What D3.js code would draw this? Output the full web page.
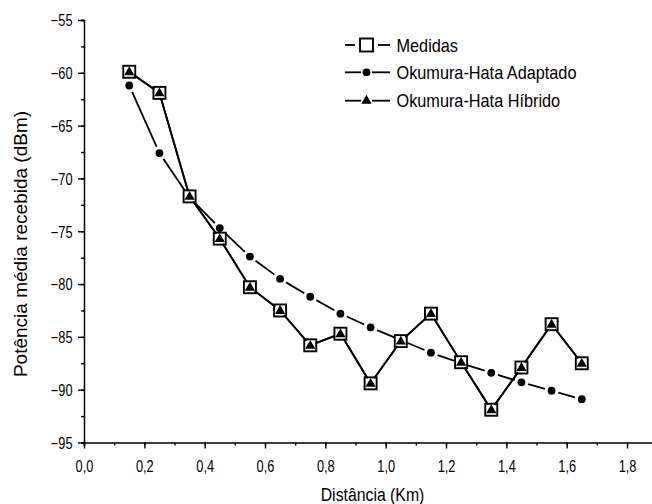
<!DOCTYPE html>
<html>
<head>
<meta charset="utf-8">
<script src="https://cdn.jsdelivr.net/npm/d3@7"></script>
<style>
  html, body { margin: 0; padding: 0; background: #fff; }
  svg { display: block; font-family: "Liberation Sans", Arial, sans-serif; }
</style>
</head>
<body>
<svg id="chart" width="652" height="504"></svg>
<script>
// Distância (km) das medições
const distancias = [0.15, 0.25, 0.35, 0.45, 0.55, 0.65, 0.75, 0.85, 0.95, 1.05, 1.15, 1.25, 1.35, 1.45, 1.55, 1.65];
// Potência média recebida (dBm)
const medidas   = [-59.9, -61.9, -71.7, -75.7, -80.3, -82.5, -85.8, -84.7, -89.4, -85.4, -82.8, -87.4, -91.9, -87.9, -83.8, -87.5];
const adaptado  = [-61.2, -67.6, -71.8, -74.7, -77.4, -79.5, -81.2, -82.8, -84.1, -85.3, -86.5, -87.5, -88.4, -89.3, -90.1, -90.9];
const hibrido   = [-59.9, -61.9, -71.7, -75.7, -80.3, -82.5, -85.8, -84.7, -89.4, -85.4, -82.8, -87.4, -91.9, -87.9, -83.8, -87.5];
const xTicks = [0, 0.2, 0.4, 0.6, 0.8, 1.0, 1.2, 1.4, 1.6, 1.8];
const yTicks = [-95, -90, -85, -80, -75, -70, -65, -60, -55];
const seriesNames = ["Medidas", "Okumura-Hata Adaptado", "Okumura-Hata Híbrido"];

const svg = d3.select("#chart");
const x = d3.scaleLinear().domain([0, 1.9]).range([84, 657.2]);
const y = d3.scaleLinear().domain([-95, -55]).range([442.5, 20]);
const fmt = d => d3.format(".1f")(d).replace(".", ",");
const ink = "#000";
const font = "Liberation Sans, Arial, sans-serif";
const tickSX = 0.8;   // rótulos dos eixos em estilo condensado

// Eixo X: marcas menores e maiores
const gx = svg.append("g").attr("transform", `translate(0,${y(-95)})`);
gx.call(d3.axisBottom(x).tickValues(d3.range(0, 1.95, 0.1)).tickSize(3).tickFormat(""));
gx.selectAll(".tick line").attr("stroke", ink).attr("stroke-width", 1.4);
gx.select(".domain").attr("stroke", ink).attr("stroke-width", 1.5);
const gx2 = svg.append("g").attr("transform", `translate(0,${y(-95)})`);
gx2.call(d3.axisBottom(x).tickValues(xTicks).tickSize(6).tickFormat(fmt));
gx2.select(".domain").remove();
gx2.selectAll(".tick line").attr("stroke", ink).attr("stroke-width", 1.4);
gx2.selectAll(".tick text")
   .attr("font-size", 16).attr("font-family", font).attr("fill", ink)
   .attr("x", 0).attr("y", 29.2).attr("dy", null)
   .attr("transform", `scale(${tickSX},1)`);

// Eixo Y: marcas menores e maiores
const gy = svg.append("g").attr("transform", `translate(${x(0)},0)`);
gy.call(d3.axisLeft(y).tickValues(d3.range(-95, -54.9, 2.5)).tickSize(3).tickFormat(""));
gy.selectAll(".tick line").attr("stroke", ink).attr("stroke-width", 1.4);
gy.select(".domain").attr("stroke", ink).attr("stroke-width", 1.5);
const gy2 = svg.append("g").attr("transform", `translate(${x(0)},0)`);
gy2.call(d3.axisLeft(y).tickValues(yTicks).tickSize(6).tickFormat(d3.format("d")));
gy2.select(".domain").remove();
gy2.selectAll(".tick line").attr("stroke", ink).attr("stroke-width", 1.4);
gy2.selectAll(".tick text")
   .attr("font-size", 16).attr("font-family", font).attr("fill", ink)
   .attr("x", -11.5 / tickSX).attr("dy", "0.36em")
   .attr("transform", `scale(${tickSX},1)`);

// Títulos dos eixos
svg.append("text").attr("transform", "translate(372.5,501) scale(0.85,1)").attr("text-anchor", "middle")
   .attr("font-size", 18.6).attr("fill", ink).text("Distância (Km)");
svg.append("text").attr("transform", "translate(27.3,244) rotate(-90)").attr("text-anchor", "middle")
   .attr("font-size", 19).attr("fill", ink).text("Potência média recebida (dBm)");

// Segmentos com pequenas folgas junto aos símbolos
function gappedSegments(vals, gap) {
  const segs = [];
  for (let i = 0; i < vals.length - 1; i++) {
    const x1 = x(distancias[i]), y1 = y(vals[i]), x2 = x(distancias[i + 1]), y2 = y(vals[i + 1]);
    const len = Math.hypot(x2 - x1, y2 - y1);
    if (len <= 2 * gap) continue;
    const ux = (x2 - x1) / len, uy = (y2 - y1) / len;
    segs.push([x1 + ux * gap, y1 + uy * gap, x2 - ux * gap, y2 - uy * gap]);
  }
  return segs;
}

const plot = svg.append("g");
const lw = 1.8;

// Okumura-Hata Adaptado
plot.selectAll("line.adapt").data(gappedSegments(adaptado, 7)).join("line").attr("class", "adapt")
  .attr("x1", d => d[0]).attr("y1", d => d[1]).attr("x2", d => d[2]).attr("y2", d => d[3])
  .attr("stroke", ink).attr("stroke-width", lw);
plot.selectAll("circle.adapt").data(adaptado).join("circle").attr("class", "adapt")
  .attr("cx", (d, i) => x(distancias[i])).attr("cy", d => y(d)).attr("r", 3.9).attr("fill", ink);

// Medidas
plot.selectAll("line.med").data(gappedSegments(medidas, 6)).join("line").attr("class", "med")
  .attr("x1", d => d[0]).attr("y1", d => d[1]).attr("x2", d => d[2]).attr("y2", d => d[3])
  .attr("stroke", ink).attr("stroke-width", lw);
plot.selectAll("rect.med").data(medidas).join("rect").attr("class", "med")
  .attr("x", (d, i) => x(distancias[i]) - 6).attr("y", d => y(d) - 6)
  .attr("width", 12).attr("height", 12).attr("fill", "#fff").attr("stroke", ink).attr("stroke-width", 1.9);

// Okumura-Hata Híbrido
const tri = d3.symbol().type(d3.symbolTriangle).size(45);
plot.selectAll("line.hib").data(gappedSegments(hibrido, 6)).join("line").attr("class", "hib")
  .attr("x1", d => d[0]).attr("y1", d => d[1]).attr("x2", d => d[2]).attr("y2", d => d[3])
  .attr("stroke", ink).attr("stroke-width", lw);
plot.selectAll("path.hib").data(hibrido).join("path").attr("class", "hib")
  .attr("transform", (d, i) => `translate(${x(distancias[i])},${y(d) + 0.5})`)
  .attr("d", tri).attr("fill", ink);

// Legenda
const legend = svg.append("g");
const rows = [45, 72.3, 100.7];
rows.forEach((ly, k) => {
  legend.append("line").attr("x1", 345).attr("x2", k === 0 ? 355 : 361).attr("y1", ly).attr("y2", ly)
    .attr("stroke", ink).attr("stroke-width", lw);
  legend.append("line").attr("x1", k === 0 ? 378 : 372).attr("x2", 390).attr("y1", ly).attr("y2", ly)
    .attr("stroke", ink).attr("stroke-width", lw);
  if (k === 0) {
    legend.append("rect").attr("x", 360).attr("y", ly - 6.5).attr("width", 13).attr("height", 13)
      .attr("fill", "#fff").attr("stroke", ink).attr("stroke-width", 1.9);
  } else if (k === 1) {
    legend.append("circle").attr("cx", 366.5).attr("cy", ly).attr("r", 3.9).attr("fill", ink);
  } else {
    legend.append("path").attr("transform", `translate(366.5,${ly})`).attr("d", tri).attr("fill", ink);
  }
  legend.append("text").attr("transform", `translate(396.5,${ly + 6.6}) scale(0.875,1)`)
    .attr("font-size", 18.6).attr("fill", ink).text(seriesNames[k]);
});
</script>
</body>
</html>
